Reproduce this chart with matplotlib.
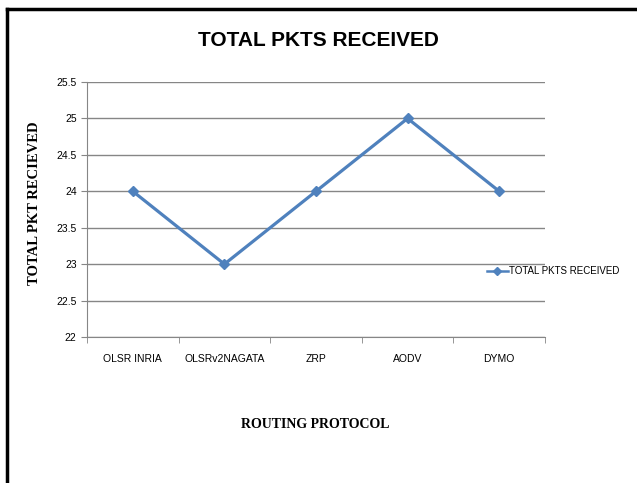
import matplotlib
matplotlib.use("Agg")
import matplotlib.pyplot as plt
from matplotlib.ticker import FixedLocator

protocols = ["OLSR INRIA", "OLSRv2NAGATA", "ZRP", "AODV", "DYMO"]
pkts_received = [24, 23, 24, 25, 24]
y_ticks = [22, 22.5, 23, 23.5, 24, 24.5, 25, 25.5]
y_labels = ["22", "22.5", "23", "23.5", "24", "24.5", "25", "25.5"]

plt.rcParams["font.family"] = ["Liberation Sans", "DejaVu Sans"]

fig = plt.figure(figsize=(6.37, 4.83), dpi=100)
ax = fig.add_axes([87 / 637, 146 / 483, 458 / 637, 255 / 483])

x = list(range(len(protocols)))
line, = ax.plot(x, pkts_received, color="#4F81BD", lw=2.3, marker="D", ms=5,
                label="TOTAL PKTS RECEIVED")

ax.set_xlim(-0.5, len(protocols) - 0.5)
ax.set_ylim(22, 25.5)
ax.set_yticks(y_ticks)
ax.set_yticklabels(y_labels)
ax.set_xticks(x)
ax.set_xticklabels(protocols)
ax.xaxis.set_minor_locator(FixedLocator([i - 0.5 for i in range(len(protocols) + 1)]))
ax.tick_params(axis="x", which="major", length=0, pad=12, labelsize=7.5)
ax.tick_params(axis="x", which="minor", length=4, color="#868686")
ax.tick_params(axis="y", length=4, color="#868686", labelsize=7.5)

ax.grid(axis="y", color="#868686", lw=1)
ax.set_axisbelow(True)
for s in ["top", "right"]:
    ax.spines[s].set_visible(False)
for s in ["left", "bottom"]:
    ax.spines[s].set_color("#868686")

fig.text(0.5, 1 - 40 / 483, "TOTAL PKTS RECEIVED", ha="center", va="center",
         fontsize=15, fontweight="bold")
fig.text(35 / 637, 1 - 203 / 483, "TOTAL PKT RECIEVED", ha="center", va="center",
         rotation=90, fontsize=10.5, fontweight="bold", family="Liberation Serif")
fig.text(315 / 637, 1 - 425 / 483, "ROUTING PROTOCOL", ha="center", va="center",
         fontsize=10, fontweight="bold", family="Liberation Serif")

fig.legend(handles=[line], loc="center left", bbox_to_anchor=(478 / 637, 1 - 271 / 483),
           frameon=False, fontsize=7, handlelength=2.2, handletextpad=0.1)
for h in fig.legends[0].legend_handles:
    h.set_linewidth(1.8)
    h.set_markersize(4)

# partial frame around the chart
fig.add_artist(plt.Line2D([7 / 637, 7 / 637], [0, 1 - 9 / 483], color="black", lw=2.5))
fig.add_artist(plt.Line2D([7 / 637, 1], [1 - 9 / 483, 1 - 9 / 483], color="black", lw=2.5))

fig.savefig("out.png", dpi=100)
